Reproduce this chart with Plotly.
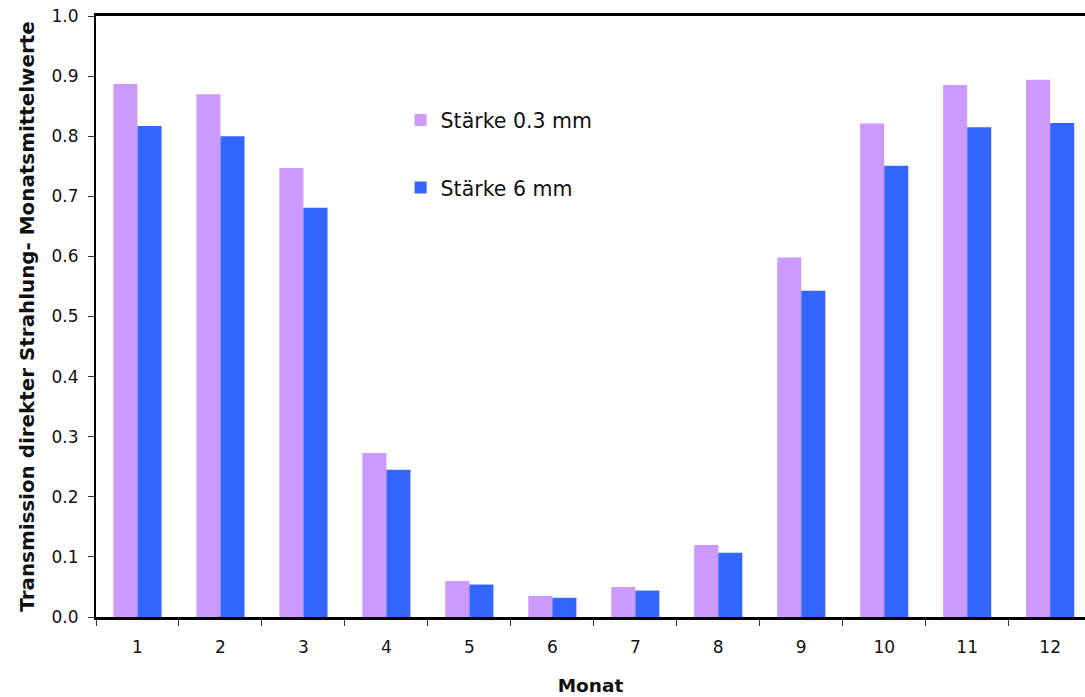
import plotly.graph_objects as go

# Monthly mean transmission of direct radiation for two glass thicknesses
months = ["1", "2", "3", "4", "5", "6", "7", "8", "9", "10", "11", "12"]
thin_03mm = [0.887, 0.870, 0.747, 0.273, 0.060, 0.035, 0.050, 0.120, 0.598, 0.821, 0.885, 0.894]
thick_6mm = [0.817, 0.800, 0.681, 0.245, 0.054, 0.032, 0.044, 0.107, 0.543, 0.751, 0.815, 0.822]
series_names = ["Stärke 0.3 mm", "Stärke 6 mm"]
y_ticks = [0.0, 0.1, 0.2, 0.3, 0.4, 0.5, 0.6, 0.7, 0.8, 0.9, 1.0]

font_family = "DejaVu Sans, Arial, sans-serif"

fig = go.Figure()
fig.add_trace(go.Bar(x=months, y=thin_03mm, name=series_names[0],
                     marker=dict(color="#CC99FF", line=dict(width=0)),
                     legendgroup="a"))
fig.add_trace(go.Bar(x=months, y=thick_6mm, name=series_names[1],
                     marker=dict(color="#3366FF", line=dict(width=0)),
                     legendgroup="b"))

fig.update_layout(
    width=1085, height=697,
    margin=dict(l=96, r=0, t=16, b=80),
    paper_bgcolor="white", plot_bgcolor="white",
    font=dict(family=font_family, size=17, color="#111111"),
    barmode="group", bargap=0.42, bargroupgap=0,
    showlegend=True,
    legend=dict(x=0.308, y=0.86, xanchor="left", yanchor="top",
                bgcolor="rgba(0,0,0,0)", font=dict(size=20.5),
                tracegroupgap=38, itemwidth=30),
    xaxis=dict(
        type="category", range=[-0.5, 11.42],
        tickson="boundaries", ticks="outside", ticklen=6, tickwidth=1,
        tickcolor="#333333",
        showline=True, linecolor="black", linewidth=3, mirror=True,
        showgrid=False, zeroline=False,
        tickfont=dict(size=17), ticklabelstandoff=13,
        title=dict(text="<b>Monat</b>", font=dict(size=18.5), standoff=23),
    ),
    yaxis=dict(
        range=[0, 1.0], tickvals=y_ticks, tickformat=".1f",
        ticks="outside", ticklen=6, tickwidth=1, tickcolor="#333333",
        showline=True, linecolor="black", linewidth=2,
        showgrid=False, zeroline=False,
        tickfont=dict(size=17), ticklabelstandoff=6,
        title=dict(text="<b>Transmission direkter Strahlung- Monatsmittelwerte</b>",
                   font=dict(size=19.9), standoff=12),
    ),
)

fig.write_html("out.html")
